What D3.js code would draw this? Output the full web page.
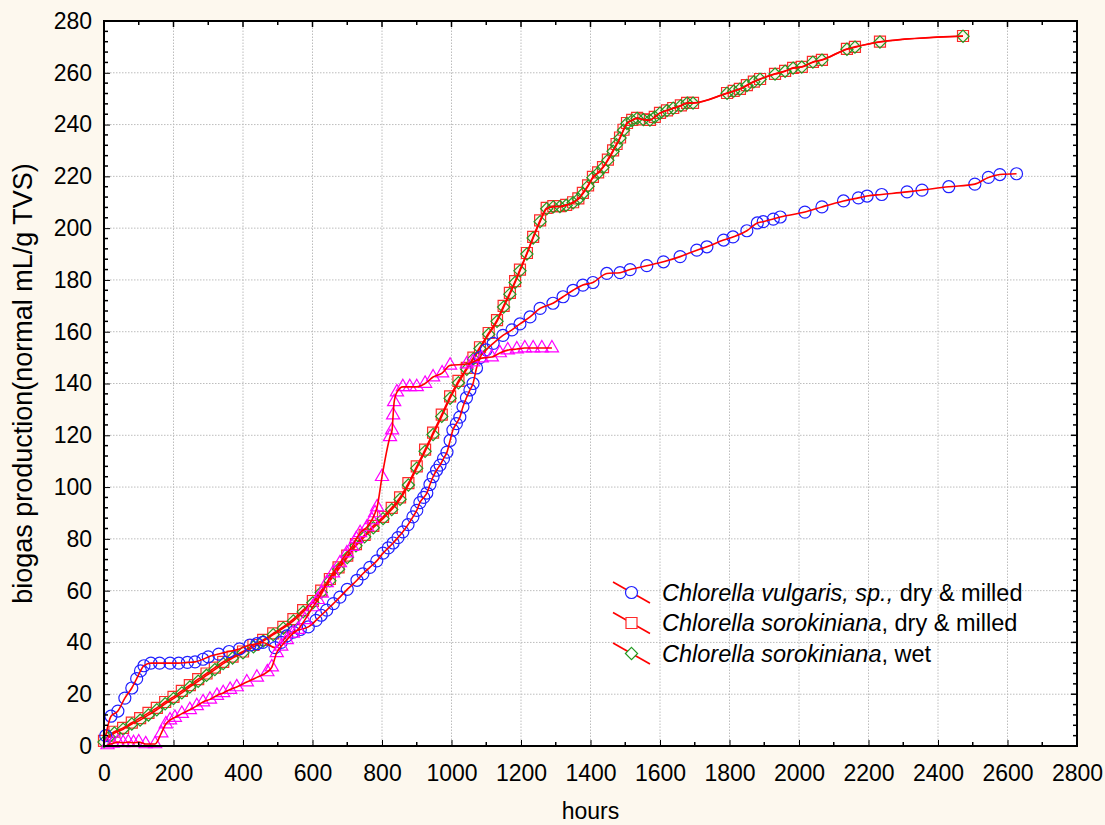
<!DOCTYPE html>
<html>
<head>
<meta charset="utf-8">
<script src="https://cdn.jsdelivr.net/npm/d3@7"></script>
<style>
  body { margin: 0; background: #fdf8ee; }
  svg { display: block; font-family: "Liberation Sans", Arial, sans-serif; }
</style>
</head>
<body>
<svg id="chart"></svg>
<script>
// [hours, normal mL/g TVS]
const vulgaris = [
  [5,4],[20,11.5],[40,13.5],[60,18.5],[80,22.4],[94,26],[105,29],[115,31],[135,32],[160,32],
  [190,32],[215,32],[240,32.3],[262,32.5],[285,33.5],[300,34.4],[330,35.5],[360,36.5],[390,37.5],
  [420,39],[440,39.5],[457,40],[492,38],[510,40],[526,42.5],[545,44],[565,45],[588,46],[610,48.5],
  [625,50.5],[641,52.5],[660,55],[679,57.5],[700,60.5],[728,64],[745,66.5],[765,69],[785,71.5],
  [803,74.5],[818,76.5],[832,78.4],[846,80.5],[860,82.7],[875,85.5],[889,88.5],[900,91],[909,94],
  [920,96],[929,97.7],[938,101],[947,104],[957,106.5],[967,108.5],[977,111],[987,113.5],[996,118],
  [1004,122],[1014,124.5],[1024,127],[1033,131],[1043,134.5],[1053,137.5],[1062,140],[1072,146],
  [1082,150],[1100,153],[1120,155.5],[1148,158.6],[1174,160.7],[1197,163],[1226,165.7],[1255,169],
  [1292,171],[1321,173.5],[1350,176],[1378,178],[1407,179],[1447,182.5],[1485,182.8],[1514,184],
  [1562,185.5],[1610,187],[1658,189],[1706,191.5],[1735,192.8],[1783,195.4],[1810,196.6],[1850,199],
  [1880,202],[1897,202.5],[1926,203.5],[1946,204.3],[2017,206.2],[2066,208.2],[2128,210.5],
  [2171,211.7],[2196,212.4],[2238,213],[2311,214],[2354,214.7],[2431,216],[2506,217],[2545,219.6],
  [2578,220.7],[2626,221]
];

const sorokinianaDry = [
  [0,2],[15,4],[30,5.5],[55,7],[80,9],[104,10.8],[128,12.8],[152,14.7],[176,17],[200,19],[224,21.3],
  [247,23.5],[271,25.8],[295,28],[319,30.3],[343,32.5],[370,34.5],[400,36.5],[430,39],[458,41],
  [487,43.5],[516,46],[545,49],[573,52.5],[601,56],[625,60],[650,64.5],[675,69],[700,73.5],[725,78],
  [750,81.5],[775,85],[803,88.5],[828,92],[852,96],[876,101.5],[900,108],[924,114.5],[947,121],
  [972,128],[996,135],[1020,141],[1044,146],[1063,150],[1082,154],[1107,159.5],[1131,164.5],
  [1150,170],[1168,175],[1183,179.5],[1197,184],[1217,190.4],[1235,196.6],[1255,203],[1274,207.8],
  [1293,208.5],[1312,208.5],[1330,209],[1350,210],[1365,211.5],[1378,213.6],[1393,216.5],
  [1407,219.8],[1422,221.5],[1436,223.6],[1450,226.5],[1465,230],[1475,232.5],[1485,235],[1495,238],
  [1505,240.6],[1520,241.8],[1534,242.6],[1552,242],[1571,241.8],[1585,243],[1600,244.5],
  [1620,245.5],[1638,246.4],[1660,247.4],[1678,248.4],[1695,248.4],[1793,252.2],[1812,253],
  [1830,253.8],[1850,255.2],[1870,256.6],[1888,257.6],[1931,259.6],[1960,260.7],[1983,261.9],
  [2008,262.3],[2040,264.2],[2066,265],[2138,269.2],[2161,270],[2233,272],[2472,274.2]
];

const sorokinianaWet = [
  [0,1.5],[15,3.5],[30,5],[55,6.5],[80,8.5],[104,10],[128,12],[152,14],[176,16.3],[200,18.3],[224,20.5],
  [247,22.8],[271,25],[295,27.3],[319,29.5],[343,31.8],[370,34],[400,36],[430,38.3],[458,40.5],
  [487,43],[516,45.5],[545,48.3],[573,51.8],[601,55.3],[625,59.3],[650,63.8],[675,68.3],[700,72.8],
  [725,77.3],[750,80.8],[775,84.3],[803,87.8],[828,91.3],[852,95.3],[876,100.8],[900,107.3],
  [924,113.8],[947,120.3],[972,127.3],[996,134.3],[1020,140.3],[1044,145.5],[1063,149.5],[1082,153.5],
  [1107,159],[1131,164],[1150,169.5],[1168,174.5],[1183,179],[1197,183.5],[1217,190],[1235,196.2],
  [1255,202.5],[1274,207.5],[1293,208.2],[1312,208.3],[1330,208.8],[1350,209.8],[1365,211.2],
  [1378,213.3],[1393,216.2],[1407,219.5],[1422,221.3],[1436,223.4],[1450,226.2],[1465,229.7],
  [1475,232.2],[1485,234.8],[1495,237.8],[1505,240.4],[1520,241.6],[1534,242.4],[1552,241.9],
  [1571,241.7],[1585,242.9],[1600,244.4],[1620,245.4],[1638,246.3],[1660,247.3],[1678,248.3],
  [1695,248.3],[1793,252.1],[1812,252.9],[1830,253.7],[1850,255.1],[1870,256.5],[1888,257.5],
  [1931,259.5],[1960,260.6],[1983,261.8],[2008,262.2],[2040,264.1],[2066,264.9],[2138,269.1],
  [2161,269.9],[2233,271.9],[2472,274.1]
];

// unnamed fourth series (magenta triangles, not in the legend)
const triangles = [
  [10,0.4],[25,1],[40,1.5],[55,1.2],[70,1.5],[85,1.2],[100,1.5],[120,0.8],[147,0.8],[165,5],
  [178,8.5],[190,10],[204,11],[224,12.5],[247,14],[267,15.5],[285,17],[305,18],[325,19.5],
  [343,20.5],[363,21.8],[382,22.8],[411,24.7],[440,26.5],[470,28.6],[483,30.5],[497,36],[510,38.5],
  [526,41],[544,43.5],[558,45],[578,48.7],[601,53.7],[615,56.5],[627,59],[641,63],[659,66.8],
  [679,70.7],[699,74.5],[714,77],[726,80],[737,82.3],[757,84.6],[771,87.3],[780,90],[786,92.3],
  [800,104],[823,119.4],[829,122],[832,127.8],[835,132.9],[843,136.7],[860,138.7],[880,138.7],
  [900,138.7],[924,140],[947,142.5],[973,144],[996,147],[1044,147.5],[1062,148.3],[1087,149.8],
  [1116,150.2],[1139,151.8],[1162,152.9],[1188,153.3],[1211,153.7],[1235,153.7],[1260,153.7],
  [1289,153.7]
];

const xTicks = d3.range(0, 2801, 200);
const yTicks = d3.range(0, 281, 20);
const legendItalic = ["Chlorella vulgaris, sp.,", "Chlorella sorokiniana", "Chlorella sorokiniana"];
const legendPlain = [" dry & milled", ", dry & milled", ", wet"];

const width = 1105, height = 825;
const margin = {top: 21, right: 28, bottom: 79, left: 104};

const svg = d3.select("#chart")
    .attr("width", width)
    .attr("height", height);

svg.append("rect").attr("width", width).attr("height", height).attr("fill", "#fdf8ee");

const x = d3.scaleLinear().domain([0, 2800]).range([margin.left, width - margin.right]);
const y = d3.scaleLinear().domain([0, 280]).range([height - margin.bottom, margin.top]);

svg.append("rect")
    .attr("x", x(0)).attr("y", y(280))
    .attr("width", x(2800) - x(0)).attr("height", y(0) - y(280))
    .attr("fill", "#fff");

// grid
const grid = svg.append("g").attr("stroke", "#bdbdbd").attr("stroke-dasharray", "1.5,1.5");
grid.selectAll(".gx").data(xTicks.slice(1, -1)).join("line")
    .attr("x1", d => x(d)).attr("x2", d => x(d))
    .attr("y1", y(0)).attr("y2", y(280));
grid.selectAll(".gy").data(yTicks.slice(1, -1)).join("line")
    .attr("y1", d => y(d)).attr("y2", d => y(d))
    .attr("x1", x(0)).attr("x2", x(2800));

// series: markers first, red line on top
const line = d3.line().x(d => x(d[0])).y(d => y(d[1])).curve(d3.curveMonotoneX);

const circleS = {data: vulgaris, type: d3.symbolCircle, size: 113, stroke: "#2020ff", fill: "none"};
const squareS = {data: sorokinianaDry, type: d3.symbolSquare, size: 121, stroke: "#ff2a2a", fill: "#fff3ec"};
const diamondS = {data: sorokinianaWet, type: d3.symbolDiamond2, size: 95, stroke: "#229922", fill: "none"};
const triangleS = {data: triangles, type: d3.symbolTriangle, size: 75, stroke: "#ff00ff", fill: "none"};

const drawOrder = [squareS, diamondS, circleS, triangleS];
const legendOrder = [circleS, squareS, diamondS];

const plot = svg.append("g");
drawOrder.forEach(s => {
  plot.append("g")
    .selectAll("path")
    .data(s.data)
    .join("path")
      .attr("transform", d => `translate(${x(d[0])},${y(d[1])})`)
      .attr("d", d3.symbol().type(s.type).size(s.size))
      .attr("fill", s.fill)
      .attr("stroke", s.stroke)
      .attr("stroke-width", 1.2);
  plot.append("path")
    .datum(s.data)
    .attr("fill", "none")
    .attr("stroke", "#ff0000")
    .attr("stroke-width", 1.6)
    .attr("d", line);
});

// axes, ticks inward on all four sides
const tickFont = g => g.selectAll("text")
    .attr("font-size", 23).attr("fill", "#000")
    .attr("font-family", "'Liberation Sans', Arial, sans-serif");

svg.append("g")
    .attr("transform", `translate(0,${y(0)})`)
    .call(d3.axisBottom(x).tickValues(xTicks).tickSize(-6).tickPadding(19).tickFormat(d3.format("d")))
    .call(g => g.select(".domain").remove())
    .call(tickFont);
svg.append("g")
    .attr("transform", `translate(${x(0)},0)`)
    .call(d3.axisLeft(y).tickValues(yTicks).tickSize(-6).tickPadding(12))
    .call(g => g.select(".domain").remove())
    .call(tickFont);

const minorX = d3.range(100, 2800, 200);
const minorY = d3.range(0, 281, 4).filter(d => d % 20 !== 0);
const ticks = svg.append("g").attr("stroke", "#000").attr("stroke-width", 1.5);
ticks.selectAll(".tb").data(minorX).join("line")
    .attr("x1", d => x(d)).attr("x2", d => x(d)).attr("y1", y(0)).attr("y2", y(0) - 4);
ticks.selectAll(".tt").data(minorX).join("line")
    .attr("x1", d => x(d)).attr("x2", d => x(d)).attr("y1", y(280)).attr("y2", y(280) + 4);
ticks.selectAll(".tt2").data(xTicks).join("line")
    .attr("x1", d => x(d)).attr("x2", d => x(d)).attr("y1", y(280)).attr("y2", y(280) + 6);
ticks.selectAll(".tl").data(minorY).join("line")
    .attr("y1", d => y(d)).attr("y2", d => y(d)).attr("x1", x(0)).attr("x2", x(0) + 4);
ticks.selectAll(".tr").data(minorY).join("line")
    .attr("y1", d => y(d)).attr("y2", d => y(d)).attr("x1", x(2800)).attr("x2", x(2800) - 4);
ticks.selectAll(".tr2").data(yTicks).join("line")
    .attr("y1", d => y(d)).attr("y2", d => y(d)).attr("x1", x(2800)).attr("x2", x(2800) - 6);

svg.append("rect")
    .attr("x", x(0)).attr("y", y(280))
    .attr("width", x(2800) - x(0)).attr("height", y(0) - y(280))
    .attr("fill", "none").attr("stroke", "#000").attr("stroke-width", 2);

// axis titles
svg.append("text")
    .attr("x", (x(0) + x(2800)) / 2).attr("y", 819)
    .attr("text-anchor", "middle").attr("font-size", 23)
    .text("hours");
svg.append("text")
    .attr("transform", `translate(32,${(y(0) + y(280)) / 2}) rotate(-90)`)
    .attr("text-anchor", "middle").attr("font-size", 27)
    .text("biogas production(normal mL/g TVS)");

// legend
const legend = svg.append("g").attr("transform", "translate(613,582)");
const legendRows = legend.selectAll("g")
    .data(legendOrder)
    .join("g")
      .attr("transform", (d, i) => `translate(0,${i * 30.5})`);
legendRows.append("line")
    .attr("x1", 0).attr("y1", 0).attr("x2", 37).attr("y2", 21)
    .attr("stroke", "#ff0000").attr("stroke-width", 1.6);
legendRows.append("path")
    .attr("transform", "translate(18.5,10.5)")
    .attr("d", d => d3.symbol().type(d.type).size(d.size)())
    .attr("fill", "#fff")
    .attr("stroke", d => d.stroke)
    .attr("stroke-width", 1.2);
const legendText = legendRows.append("text")
    .attr("x", 49).attr("y", 18.5)
    .attr("font-size", 23.5);
legendText.append("tspan").attr("font-style", "italic").text((d, i) => legendItalic[i]);
legendText.append("tspan").text((d, i) => legendPlain[i]);
</script>
</body>
</html>
